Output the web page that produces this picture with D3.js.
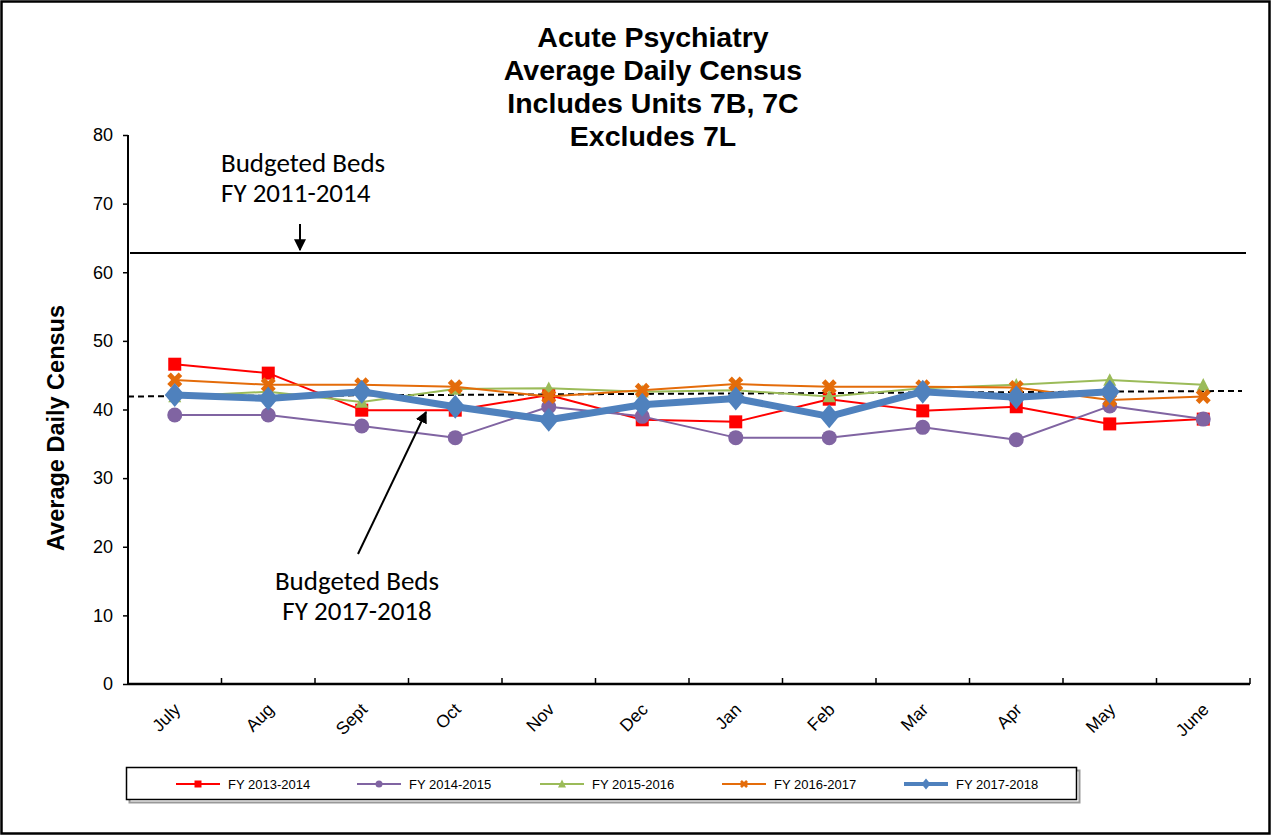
<!DOCTYPE html>
<html><head><meta charset="utf-8">
<script src="https://cdn.jsdelivr.net/npm/d3@7"></script>
<style>body{margin:0;background:#fff}svg{display:block}
.sf{font-family:Arial,"Liberation Sans",sans-serif}
.cf{font-family:Carlito,Calibri,"Open Sans",sans-serif}
</style>
</head><body>
<svg id="c" width="1273" height="836"></svg>
<script>
const months = ["July","Aug","Sept","Oct","Nov","Dec","Jan","Feb","Mar","Apr","May","June"];
const yTicks = [0,10,20,30,40,50,60,70,80];
const titleLines = ["Acute Psychiatry","Average Daily Census","Includes Units 7B, 7C","Excludes 7L"];
const seriesNames = ["FY 2013-2014","FY 2014-2015","FY 2015-2016","FY 2016-2017","FY 2017-2018"];
const fy1314 = [46.6,45.3,39.9,39.9,42.1,38.5,38.2,41.5,39.8,40.4,37.9,38.6];
const fy1415 = [39.2,39.2,37.6,35.9,40.4,39.0,35.9,35.9,37.4,35.6,40.5,38.6];
const fy1516 = [41.9,42.6,41.1,43.0,43.1,42.6,42.8,41.9,43.1,43.6,44.3,43.6];
const fy1617 = [44.3,43.6,43.6,43.3,41.9,42.8,43.7,43.3,43.3,43.2,41.4,41.9];
const fy1718 = [42.1,41.6,42.6,40.4,38.5,40.7,41.6,39.0,42.6,41.8,42.6];
const budget1114 = 62.8;
const budget1718 = [41.9,42.7]; // dashed line start/end
const annot1 = ["Budgeted Beds","FY 2011-2014"];
const annot2 = ["Budgeted Beds","FY 2017-2018"];

const colors = ["#FF0000","#8064A2","#9BBB59","#E46C0A","#4F81BD"];
const symbols = ["square","circle","triangle","x","diamond"];
const allSeries = [fy1314,fy1415,fy1516,fy1617,fy1718];

const svg = d3.select("#c");
svg.append("rect").attr("x",1.5).attr("y",1.5).attr("width",1268).attr("height",832)
  .attr("fill","#fff").attr("stroke","#000").attr("stroke-width",2.5);

const L=128, R=1250, T=135, B=684;
const x = d3.scaleBand().domain(months).range([L,R]);
const y = d3.scaleLinear().domain([0,80]).range([B,T]);
const cx = m => x(m)+x.bandwidth()/2;

// title
svg.append("g").selectAll("text").data(titleLines).join("text").attr("class","sf")
  .attr("x",653).attr("y",(d,i)=>47+i*33).attr("text-anchor","middle")
  .attr("font-weight","bold").attr("font-size",28.5)
  .text(d=>d);

// y axis
const ya = svg.append("g").attr("transform",`translate(${L},0)`)
  .call(d3.axisLeft(y).tickValues(yTicks).tickSize(5).tickPadding(10));
ya.select(".domain").attr("stroke","#000").attr("stroke-width",2).attr("d",`M0,${T}V${B}`);
ya.selectAll(".tick line").attr("stroke","#000").attr("stroke-width",1.5);
ya.selectAll("text").attr("class","sf").attr("font-family",null).attr("font-size",18).attr("fill","#000");

// x axis
const xa = svg.append("g").attr("transform",`translate(0,${B})`)
  .call(d3.axisBottom(x).tickSize(0).tickFormat(""));
xa.select(".domain").attr("stroke","#000").attr("stroke-width",2.5).attr("d",`M${L},0H${R}`);
const bounds = months.map(m=>x(m)).concat([R]);
svg.append("g").selectAll("line").data(bounds).join("line")
  .attr("x1",d=>d).attr("x2",d=>d).attr("y1",B).attr("y2",B-6).attr("stroke","#000").attr("stroke-width",1.5);
svg.append("g").selectAll("text").data(months).join("text").attr("class","sf")
  .attr("transform",d=>`translate(${cx(d)-2},${B+18}) rotate(-45)`)
  .attr("text-anchor","end").attr("dy","0.7em")
  .attr("font-size",17.5).text(d=>d);

// y title
svg.append("text").attr("class","sf").attr("transform","translate(64,428) rotate(-90)").attr("text-anchor","middle")
  .attr("font-weight","bold").attr("font-size",23.5)
  .text("Average Daily Census");

// budget lines
svg.append("line").attr("x1",L+2).attr("x2",R-4).attr("y1",y(budget1114)).attr("y2",y(budget1114))
  .attr("stroke","#000").attr("stroke-width",2);
svg.append("line").attr("x1",L).attr("x2",R-8).attr("y1",y(budget1718[0])).attr("y2",y(budget1718[1]))
  .attr("stroke","#000").attr("stroke-width",2).attr("stroke-dasharray","6,4");

function sym(type,size){
  if(type==="x"){
    const s=size/2, w=size*0.24;
    return `M${-s},${-s+w}L${-s+w},${-s}L0,${-w}L${s-w},${-s}L${s},${-s+w}L${w},0L${s},${s-w}L${s-w},${s}L0,${w}L${-s+w},${s}L${-s},${s-w}L${-w},0Z`;
  }
  if(type==="square") return `M${-size/2},${-size/2}h${size}v${size}h${-size}Z`;
  if(type==="circle"){const r=size/2;return `M${r},0A${r},${r} 0 1,1 ${-r},0A${r},${r} 0 1,1 ${r},0Z`;}
  if(type==="triangle"){const h=size*0.9;return `M0,${-h/2-1}L${size/2},${h/2}L${-size/2},${h/2}Z`;}
  if(type==="diamond"){return `M0,${-size*0.6}L${size*0.5},0L0,${size*0.6}L${-size*0.5},0Z`;}
}
const markerSize=[13,15,13,15,20];
const lineW=[2,2,2,2,7];

allSeries.forEach((vals,si)=>{
  const g=svg.append("g");
  const line=d3.line().x((d,i)=>cx(months[i])).y(d=>y(d));
  g.append("path").attr("d",line(vals)).attr("fill","none").attr("stroke",colors[si])
    .attr("stroke-width",lineW[si]).attr("stroke-linejoin","round");
  g.selectAll("path.m").data(vals).join("path").attr("class","m")
    .attr("transform",(d,i)=>`translate(${cx(months[i])},${y(d)})`)
    .attr("d",sym(symbols[si],markerSize[si])).attr("fill",colors[si]);
});

// annotations
svg.append("g").selectAll("text").data(annot1).join("text").attr("class","cf")
  .attr("x",221).attr("y",(d,i)=>172+i*30).attr("font-size",27).text(d=>d);
svg.append("g").selectAll("text").data(annot2).join("text").attr("class","cf")
  .attr("x",357).attr("y",(d,i)=>590+i*30).attr("text-anchor","middle").attr("font-size",27).text(d=>d);
svg.append("defs").append("marker").attr("id","ah").attr("viewBox","0 0 10 10").attr("refX",9).attr("refY",5)
  .attr("markerWidth",12).attr("markerHeight",12).attr("orient","auto").attr("markerUnits","userSpaceOnUse")
  .append("path").attr("d","M0,0L10,5L0,10Z").attr("fill","#000");
svg.append("line").attr("x1",300).attr("y1",224).attr("x2",300).attr("y2",250)
  .attr("stroke","#000").attr("stroke-width",2).attr("marker-end","url(#ah)");
svg.append("line").attr("x1",358).attr("y1",554).attr("x2",426).attr("y2",412)
  .attr("stroke","#000").attr("stroke-width",2).attr("marker-end","url(#ah)");

// legend
const lg=svg.append("g");
lg.append("rect").attr("x",128).attr("y",769).attr("width",950).attr("height",32).attr("fill","none").attr("stroke","#999").attr("stroke-width",2).attr("transform","translate(1.5,1.5)");
lg.append("rect").attr("x",126.5).attr("y",767.5).attr("width",950).attr("height",32).attr("fill","#fff").attr("stroke","#000").attr("stroke-width",1.5);
const lx=[176,357,540,722,904];
const lgMark=[7,7,8,8,9];
seriesNames.forEach((n,i)=>{
  const g=lg.append("g").attr("transform",`translate(${lx[i]},784)`);
  g.append("line").attr("x1",0).attr("x2",44).attr("stroke",colors[i]).attr("stroke-width",i===4?4:2);
  g.append("path").attr("transform","translate(22,0)").attr("d",sym(symbols[i],lgMark[i])).attr("fill",colors[i]);
  g.append("text").attr("class","sf").attr("x",52).attr("y",5).attr("font-size",13).text(n);
});
</script>
</body></html>
